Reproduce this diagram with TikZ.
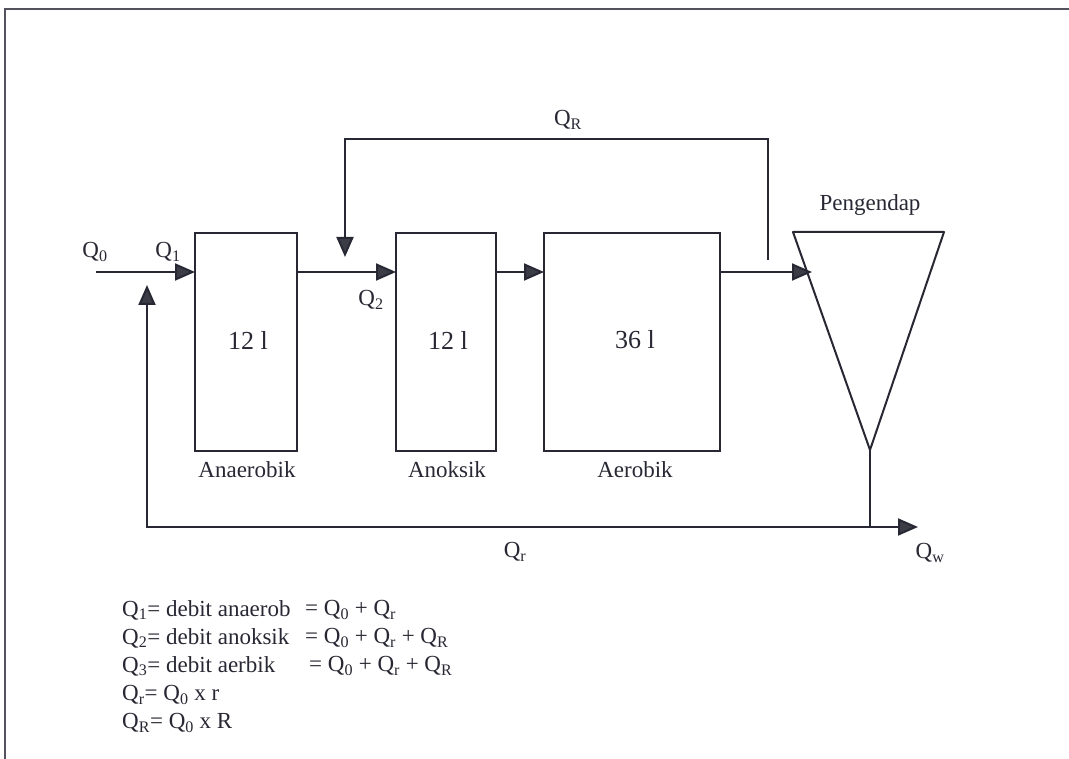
\documentclass[tikz,border=0pt]{standalone}
\usepackage{fontspec}
\setmainfont{Liberation Serif}
\usetikzlibrary{arrows.meta}
\definecolor{ink}{RGB}{40,40,52}
\definecolor{tipfill}{RGB}{60,60,70}
\begin{document}
\begin{tikzpicture}[x=1pt,y=-1pt,
  lw/.style={line width=2pt, draw=ink},
  tank/.style={lw, rectangle, inner sep=0pt, outer sep=0pt},
  flow/.style={lw, -{Triangle[length=20pt,width=17pt,fill=tipfill]}},
  lbl/.style={font=\fontsize{23}{26}\selectfont, text=ink, inner sep=0pt},
  vol/.style={font=\fontsize{26}{28}\selectfont, text=ink, inner sep=0pt},
  eq/.style={font=\fontsize{23}{25}\selectfont, text=ink, inner sep=0pt, anchor=west}]
\useasboundingbox (0,0) rectangle (1069,759);
\fill[white] (0,0) rectangle (1069,759);
% frame (clipped)
\draw[line width=1.5pt, draw=ink!80] (5,759) -- (5,9) -- (1069,9);
% tanks
\node[tank, minimum width=102pt, minimum height=218pt] (ana) at (246,342) {};
\node[tank, minimum width=100pt, minimum height=218pt] (anok) at (446,342) {};
\node[tank, minimum width=176pt, minimum height=218pt] (aer) at (632,342) {};
\node[vol] (v1) at (248,340) {12 l};
\node[vol] (v2) at (448,340) {12 l};
\node[vol] (v3) at (635,340) {36 l};
\node[lbl] (l1) at (247,470) {Anaerobik};
\node[lbl] (l2) at (447,470) {Anoksik};
\node[lbl] (l3) at (635,470) {Aerobik};
% clarifier
\coordinate (tl) at (793,232);
\coordinate (tr) at (944,232);
\coordinate (apex) at (870,450);
\draw[lw, line join=round] (tl) -- (tr) -- (apex) -- cycle;
\node[lbl] (peng) at (870,205) {Pengendap};
% main flow
\coordinate (in) at (96,272);
\coordinate (clin) at (812,272);
\draw[flow] (in) -- (ana.west |- in);
\draw[flow] (ana.east |- in) -- (anok.west |- in);
\draw[flow] (anok.east |- in) -- (aer.west |- in);
\draw[flow] (aer.east |- in) -- (clin);
% internal recycle QR
\coordinate (qrs) at (768,260);
\coordinate (qre) at (345,257);
\draw[flow] (qrs) -- (768,139) -- (345,139) -- (qre);
% sludge recycle
\coordinate (bot) at (870,527);
\coordinate (qwend) at (918,527);
\coordinate (rret) at (147,285);
\draw[lw] (apex) -- (bot);
\draw[flow] (bot) -- (147,527) -- (rret);
\draw[flow] (bot) -- (qwend);
% flow labels
\node[lbl] (q0) at (95,252) {Q\textsubscript{0}};
\node[lbl] (q1) at (168,252) {Q\textsubscript{1}};
\node[lbl] (q2) at (371,300) {Q\textsubscript{2}};
\node[lbl] (qR) at (568,120) {Q\textsubscript{R}};
\node[lbl] (qr) at (515,552) {Q\textsubscript{r}};
\node[lbl] (qw) at (930,553) {Q\textsubscript{w}};
% equations
\node[eq] (e1a) at (122,610) {Q\textsubscript{1}= debit anaerob};
\node[eq] (e1b) at (305,610) {= Q\textsubscript{0} + Q\textsubscript{r}};
\node[eq] (e2a) at (122,638) {Q\textsubscript{2}= debit anoksik};
\node[eq] (e2b) at (305,638) {= Q\textsubscript{0} + Q\textsubscript{r} + Q\textsubscript{R}};
\node[eq] (e3a) at (122,666) {Q\textsubscript{3}= debit aerbik};
\node[eq] (e3b) at (309,666) {= Q\textsubscript{0} + Q\textsubscript{r} + Q\textsubscript{R}};
\node[eq] (e4) at (122,695) {Q\textsubscript{r}= Q\textsubscript{0} x r};
\node[eq] (e5) at (122,723) {Q\textsubscript{R}= Q\textsubscript{0} x R};
\end{tikzpicture}
\end{document}
